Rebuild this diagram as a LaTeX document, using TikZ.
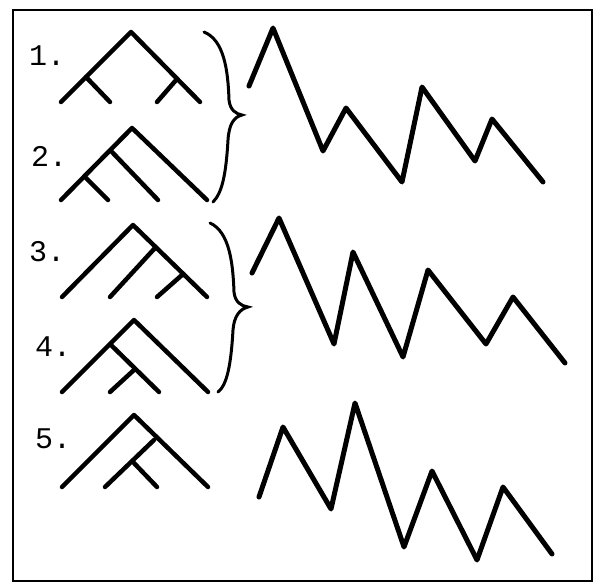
\documentclass[tikz,border=0pt]{standalone}
\usepackage{fontspec}
\setmonofont{Liberation Mono}
\begin{document}
\begin{tikzpicture}[x=1pt, y=-1pt,
  tree/.style={line width=4.5pt, line cap=round, line join=round},
  zig/.style={line width=5pt, line cap=round, line join=round},
  brc/.style={line width=3pt, line cap=round},
  num/.style={anchor=base west, inner sep=0pt, font=\ttfamily\fontsize{30}{32}\selectfont}]
\useasboundingbox (0,0) rectangle (594,583);
\draw[line width=2.4pt] (13,10) rectangle (592,581);

% labels
\node[num] (n1) at (29,66) {1.};
\node[num] (n2) at (31,166) {2.};
\node[num] (n3) at (29,261) {3.};
\node[num] (n4) at (35,356) {4.};
\node[num] (n5) at (35,448) {5.};

% tree 1
\draw[tree] (61,102) -- (131,32) -- (200,102);
\draw[tree] (86,77) -- (110,102);
\draw[tree] (177,79) -- (157,102);
% tree 2
\draw[tree] (61,200) -- (132,128) -- (207,200);
\draw[tree] (112,152) -- (158,200);
\draw[tree] (86,178) -- (108,200);
% tree 3
\draw[tree] (62,297) -- (133,225) -- (207,297);
\draw[tree] (155,248) -- (110,297);
\draw[tree] (182,275) -- (157,297);
% tree 4
\draw[tree] (62,392) -- (134,320) -- (208,392);
\draw[tree] (111,345) -- (159,392);
\draw[tree] (134,370) -- (110,392);
% tree 5
\draw[tree] (62,487) -- (134,415) -- (208,487);
\draw[tree] (154,440) -- (105,487);
\draw[tree] (133,462) -- (157,487);

% braces
\draw[brc] (204,32) .. controls (224,40) and (228,70) .. (229,100)
  .. controls (230,110) and (236,114) .. (242,115)
  .. controls (234,117) and (229,124) .. (228,140)
  .. controls (226,175) and (222,193) .. (213,202);
\draw[brc] (210,223) .. controls (230,232) and (233,265) .. (234,292)
  .. controls (235,302) and (241,306) .. (248,307)
  .. controls (240,309) and (234,316) .. (233,330)
  .. controls (231,365) and (227,385) .. (218,392);

% zigzags
\draw[zig] (249,86) -- (273,28) -- (323,151) -- (346,108) -- (402,182)
  -- (422,87) -- (475,161) -- (492,119) -- (543,182);
\draw[zig] (252,273) -- (279,218) -- (334,344) -- (353,252) -- (403,357)
  -- (428,270) -- (486,344) -- (513,297) -- (565,363);
\draw[zig] (259,497) -- (283,427) -- (331,509) -- (355,403) -- (404,547)
  -- (432,471) -- (477,560) -- (503,487) -- (552,554);
\end{tikzpicture}
\end{document}
